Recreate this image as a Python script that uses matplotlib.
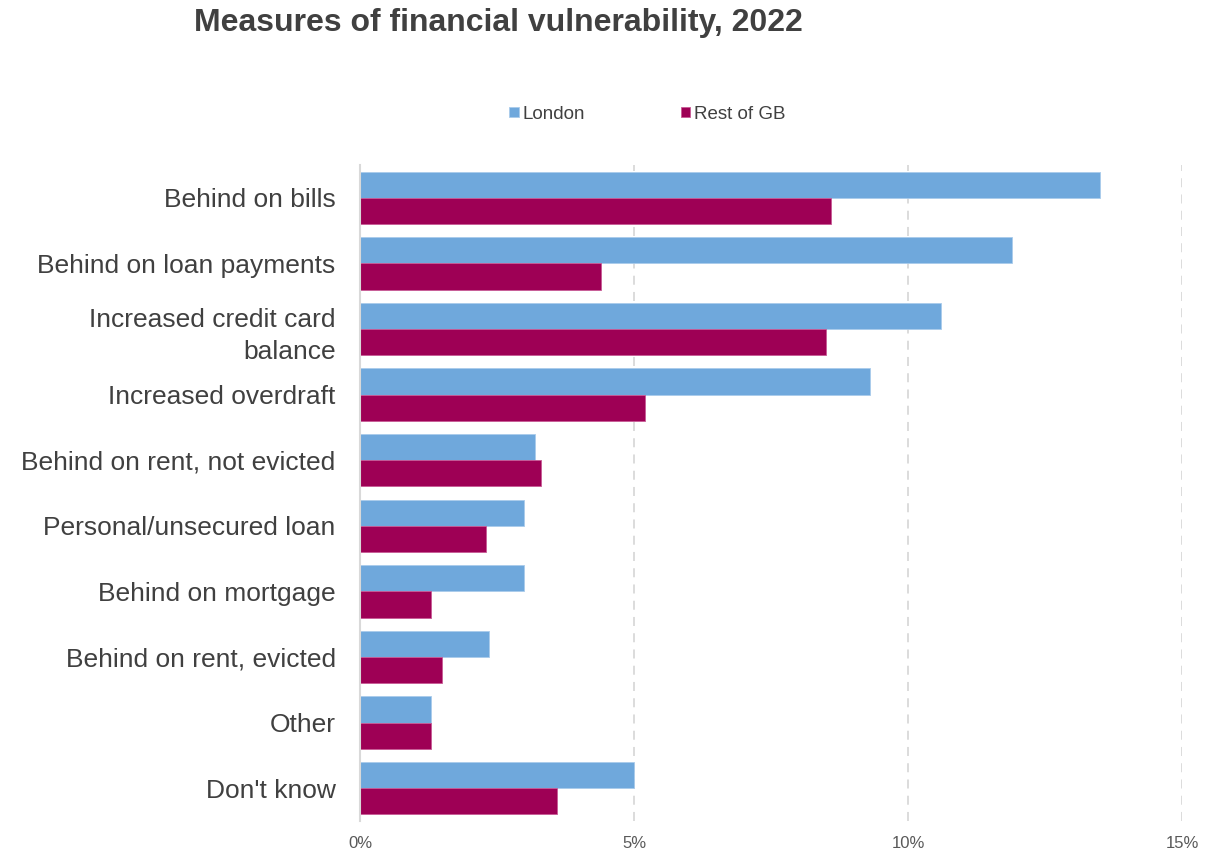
import matplotlib.pyplot as plt
import numpy as np

plt.rcParams['font.family'] = ['Liberation Sans', 'DejaVu Sans']

categories = ['Behind on bills', 'Behind on loan payments', 'Increased credit card\nbalance',
              'Increased overdraft', 'Behind on rent, not evicted', 'Personal/unsecured loan',
              'Behind on mortgage', 'Behind on rent, evicted', 'Other', "Don't know"]
london = [13.5, 11.9, 10.6, 9.3, 3.2, 3.0, 3.0, 2.35, 1.3, 5.0]
rest_of_gb = [8.6, 4.4, 8.5, 5.2, 3.3, 2.3, 1.3, 1.5, 1.3, 3.6]

fig = plt.figure(figsize=(12.19, 8.51), dpi=100)
ax = fig.add_axes([0.2953, 0.0353, 0.6744, 0.7707])

y = np.arange(len(categories))
h = 0.4
ax.barh(y - h / 2, london, height=h, color='#6fa8dc', edgecolor='#a9cbeb', linewidth=0.6, label='London')
ax.barh(y + h / 2, rest_of_gb, height=h, color='#9e0055', edgecolor='#c75a95', linewidth=0.6, label='Rest of GB')

ax.set_ylim(len(categories) - 0.5, -0.5)
ax.set_xlim(0, 15)
ax.set_yticks(y)
ax.set_yticklabels(categories, fontsize=19, color='#404040', linespacing=1.45)
ax.set_xticks([0, 5, 10, 15])
ax.set_xticklabels(['0%', '5%', '10%', '15%'], fontsize=12, color='#595959')
ax.tick_params(axis='y', length=0, pad=17.5)
ax.tick_params(axis='x', length=0, pad=11)

for s in ['top', 'right', 'bottom']:
    ax.spines[s].set_visible(False)
ax.spines['left'].set_color('#d9d9d9')
ax.spines['left'].set_linewidth(1.5)

ax.xaxis.grid(True, linestyle=(0, (5, 4)), color='#d9d9d9', linewidth=1.3)
ax.set_axisbelow(True)

fig.text(0.409, 0.973, 'Measures of financial vulnerability, 2022', ha='center', va='center',
         fontsize=23, fontweight='bold', color='#404040')

leg = fig.legend(loc='center', bbox_to_anchor=(0.531, 0.866), ncol=2, frameon=False,
                 fontsize=13.5, handlelength=0.5, handleheight=0.5, handletextpad=0.2,
                 columnspacing=5.1)
for t in leg.get_texts():
    t.set_color('#404040')

fig.savefig('out.png', dpi=100)
